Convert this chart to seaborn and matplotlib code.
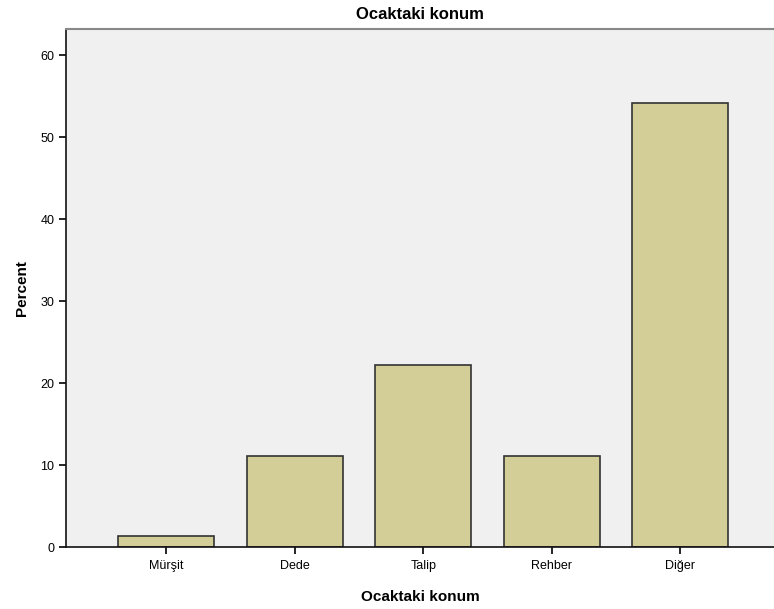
import pandas as pd
import matplotlib.pyplot as plt
import seaborn as sns

# Values (percent)
categories = ['Mürşit', 'Dede', 'Talip', 'Rehber', 'Diğer']
percents = [1.4, 11.1, 22.2, 11.1, 54.2]

df = pd.DataFrame({'konum': categories, 'percent': percents})

sns.set_style('white')
plt.rcParams['font.family'] = ['Liberation Sans', 'DejaVu Sans']
plt.rcParams['text.color'] = 'black'
plt.rcParams['axes.labelcolor'] = 'black'
plt.rcParams['xtick.color'] = 'black'
plt.rcParams['ytick.color'] = 'black'

fig = plt.figure(figsize=(7.74, 6.09), dpi=100)
ax = fig.add_axes([0.0853, 0.1018, 0.9147, 0.8506])
ax.set_facecolor('#f0f0f0')

sns.barplot(data=df, x='konum', y='percent', order=categories, color='#d3ce97',
            saturation=1, width=0.75, edgecolor='#333333', linewidth=1.2, ax=ax)

ax.set_xlim(-0.78, 4.73)
ax.set_ylim(0, 63.2)
ax.set_yticks([0, 10, 20, 30, 40, 50, 60])

ax.set_title('Ocaktaki konum', fontsize=12, fontweight='bold', pad=7)
ax.set_xlabel('Ocaktaki konum', fontsize=11, fontweight='bold', labelpad=13)
ax.set_ylabel('Percent', fontsize=11, fontweight='bold', labelpad=8)

ax.tick_params(axis='both', which='major', labelsize=9, length=5, width=1.2,
               direction='out', left=True, bottom=True)
ax.tick_params(axis='x', pad=4)

for side in ['left', 'bottom']:
    ax.spines[side].set_color('#111111')
    ax.spines[side].set_linewidth(1.2)
ax.spines['top'].set_color('#888888')
ax.spines['top'].set_linewidth(1.5)
ax.spines['right'].set_visible(False)

plt.savefig('out.png', dpi=100)
